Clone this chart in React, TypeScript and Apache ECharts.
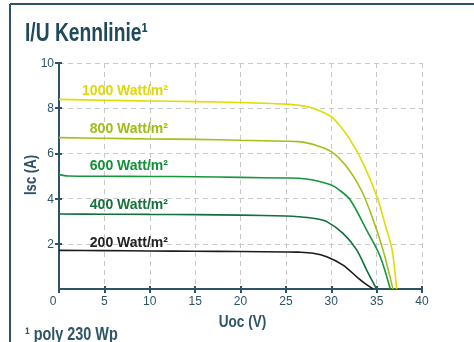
import React, { useEffect, useRef } from "react";
import * as echarts from "echarts";

const xTicks = [0, 5, 10, 15, 20, 25, 30, 35, 40];
const yTicks = [0, 2, 4, 6, 8, 10];

const seriesNames = ["1000 Watt/m²", "800 Watt/m²", "600 Watt/m²", "400 Watt/m²", "200 Watt/m²"];
const seriesColors = ["#e2dc00", "#a2c016", "#15963a", "#10703a", "#1c1c1c"];
const labelColors = ["#e0d900", "#9fbd12", "#12903a", "#14723a", "#222222"];

const v1000 = [0, 5, 10, 15, 20, 25, 26.4, 28, 30, 31, 32.1, 33.5, 35.1, 35.9, 36.7, 37.2];
const i1000 = [8.39, 8.35, 8.32, 8.29, 8.25, 8.18, 8.13, 8.0, 7.62, 7.2, 6.59, 5.57, 4.01, 2.91, 1.73, 0];

const v800 = [0, 5, 10, 15, 20, 25, 26.4, 28, 30, 31.7, 33.3, 34.5, 35.7, 36.8];
const i800 = [6.7, 6.67, 6.64, 6.62, 6.58, 6.54, 6.52, 6.4, 6.08, 5.41, 4.38, 3.2, 1.73, 0];

const v600 = [0, 1, 5, 10, 15, 20, 25, 26.4, 28, 30, 30.9, 32.1, 33.9, 35.4, 36.5];
const i600 = [5.06, 5.0, 4.99, 4.98, 4.97, 4.94, 4.91, 4.9, 4.82, 4.6, 4.38, 3.94, 2.61, 1.43, 0];

const v400 = [0, 5, 10, 15, 20, 25, 26.4, 28, 29.5, 31.3, 32.8, 33.9, 35.0];
const i400 = [3.32, 3.31, 3.3, 3.29, 3.27, 3.23, 3.2, 3.13, 2.98, 2.46, 1.73, 0.84, 0];

const v200 = [0, 5, 10, 15, 20, 25, 26.4, 28, 29.5, 31.3, 33.0, 33.7, 34.6];
const i200 = [1.71, 1.7, 1.68, 1.67, 1.66, 1.64, 1.63, 1.58, 1.43, 1.06, 0.47, 0.25, 0];

const seriesV = [v1000, v800, v600, v400, v200];
const seriesI = [i1000, i800, i600, i400, i200];

// label anchor (right edge) in data coords
const labelX = [12.0, 12.0, 12.0, 12.0, 12.0];
const labelY = [8.81, 7.14, 5.49, 3.76, 2.09];

const DARK = "#2d5466";
const FONT = "'Liberation Sans', Arial, sans-serif";

export default function App() {
  const ref = useRef<HTMLDivElement>(null);
  useEffect(() => {
    if (!ref.current) return;
    const chart = echarts.init(ref.current, null, { renderer: "svg" });
    const xMin = xTicks[0];
    const xMax = xTicks[xTicks.length - 1];
    const yMin = yTicks[0];
    const yMax = yTicks[yTicks.length - 1];
    const xInt = xTicks[1] - xTicks[0];
    const yInt = yTicks[1] - yTicks[0];
    const baseX = { type: "value", min: xMin, max: xMax, interval: xInt };
    const baseY = { type: "value", min: yMin, max: yMax, interval: yInt };

    const series = seriesNames.map((name, k) => ({
      name,
      type: "line",
      smooth: 0.3,
      symbol: "none",
      data: seriesV[k].map((v, j) => [v, seriesI[k][j]]),
      lineStyle: { color: seriesColors[k], width: 1.6 },
      itemStyle: { color: seriesColors[k] },
      markPoint: {
        symbol: "circle",
        symbolSize: 0,
        silent: true,
        data: [
          {
            coord: [labelX[k], labelY[k]],
            label: {
              show: true,
              position: "inside",
              formatter: name,
              align: "right",
              verticalAlign: "middle",
              color: labelColors[k],
              fontSize: 14,
              fontWeight: "bold",
              fontFamily: FONT,
            },
          },
        ],
      },
    }));

    chart.setOption({
      animation: false,
      grid: { left: 59, right: 52, top: 63, bottom: 53 },
      xAxis: [
        {
          ...baseX,
          position: "bottom",
          axisLine: { show: true, lineStyle: { color: DARK, width: 2 } },
          axisTick: { show: true, length: 4, lineStyle: { color: DARK, width: 2 } },
          axisLabel: {
            color: DARK,
            fontSize: 12,
            fontFamily: FONT,
            margin: 6,
            formatter: (v: number) => (v === 0 ? "{z|0}" : String(v)),
            rich: { z: { color: DARK, fontSize: 12, fontFamily: FONT, padding: [0, 12, 0, 0] } },
          },
          splitLine: { show: true, lineStyle: { color: "#c8c8c8", type: [5, 4], width: 1 } },
        },
        {
          ...baseX,
          position: "bottom",
          axisLine: { show: false },
          axisTick: { show: true, inside: true, length: 3, lineStyle: { color: DARK, width: 2 } },
          axisLabel: { show: false },
          splitLine: { show: false },
        },
        {
          ...baseX,
          position: "top",
          axisLine: { show: true, lineStyle: { color: DARK, width: 2 } },
          axisTick: { show: false },
          axisLabel: { show: false },
          splitLine: { show: false },
        },
      ],
      yAxis: [
        {
          ...baseY,
          position: "left",
          axisLine: { show: true, lineStyle: { color: DARK, width: 2 } },
          axisTick: { show: true, length: 4, lineStyle: { color: DARK, width: 2 } },
          axisLabel: { color: DARK, fontSize: 12, fontFamily: FONT, margin: 5, showMinLabel: false },
          splitLine: { show: true, lineStyle: { color: "#c8c8c8", type: [5, 4], width: 1 } },
        },
        {
          ...baseY,
          position: "left",
          axisLine: { show: false },
          axisTick: { show: true, inside: true, length: 3, lineStyle: { color: DARK, width: 2 } },
          axisLabel: { show: false },
          splitLine: { show: false },
        },
        {
          ...baseY,
          position: "right",
          axisLine: { show: true, lineStyle: { color: DARK, width: 2 } },
          axisTick: { show: false },
          axisLabel: { show: false },
          splitLine: { show: false },
        },
      ],
      series,
      graphic: [
        { type: "line", shape: { x1: 10, y1: 4, x2: 474, y2: 4 }, style: { stroke: DARK, lineWidth: 2 } },
        { type: "line", shape: { x1: 10, y1: 4, x2: 10, y2: 342 }, style: { stroke: DARK, lineWidth: 2 } },
        {
          type: "text",
          x: 25,
          y: 33,
          scaleX: 0.77,
          style: {
            text: "I/U Kennlinie¹",
            fill: "#1f4a5c",
            fontSize: 25,
            fontWeight: "bold",
            fontFamily: FONT,
            align: "left",
            verticalAlign: "middle",
          },
        },
        {
          type: "text",
          x: 25,
          y: 333,
          scaleX: 0.8,
          style: {
            text: "¹ poly 230 Wp",
            fill: DARK,
            fontSize: 18,
            fontWeight: "bold",
            fontFamily: FONT,
            align: "left",
            verticalAlign: "middle",
          },
        },
        {
          type: "text",
          x: 242.5,
          y: 321,
          scaleX: 0.8,
          style: {
            text: "Uoc (V)",
            fill: DARK,
            fontSize: 17,
            fontWeight: "bold",
            fontFamily: FONT,
            align: "center",
            verticalAlign: "middle",
          },
        },
        {
          type: "text",
          x: 31,
          y: 175,
          rotation: Math.PI / 2,
          scaleX: 0.82,
          style: {
            text: "Isc (A)",
            fill: DARK,
            fontSize: 16,
            fontWeight: "bold",
            fontFamily: FONT,
            align: "center",
            verticalAlign: "middle",
          },
        },
      ],
    });
    return () => chart.dispose();
  }, []);
  return <div ref={ref} style={{ position: "fixed", left: 0, top: 0, width: 474, height: 342 }} />;
}
